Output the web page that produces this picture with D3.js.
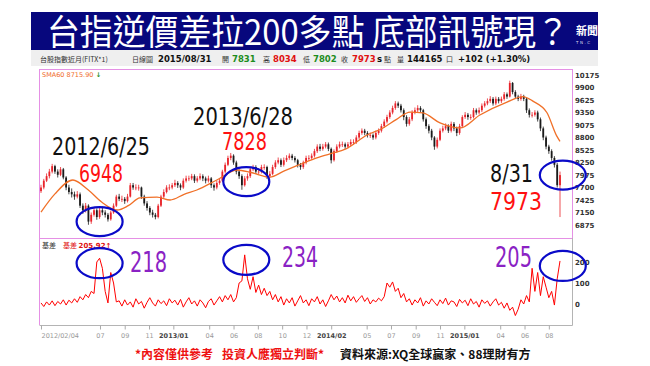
<!DOCTYPE html>
<html>
<head>
<meta charset="utf-8">
<title>台指逆價差</title>
<script src="https://cdn.jsdelivr.net/npm/d3@7"></script>
<style>
    body { margin: 0; background: #fff; }
    svg { display: block; }
    .cjk { font-family: "Noto Sans CJK TC", "Noto Sans CJK SC", sans-serif; }
    .num { font-family: "DejaVu Sans", Verdana, sans-serif; }
    .narrow { font-family: "Liberation Sans Narrow", "DejaVu Sans Condensed", sans-serif; }
</style>
</head>
<body>
<div id="chart-area"></div>
<script>

/*
 *  Data - weekly TAIEX near-month futures
 *  (one value per week, first week ending 2012/02/04)
 */

var startDay = "2012-02-04";
var firstOpen = 7620;

var weekClose = [
    7700,7850,7950,8050, 8170,8050,7980,8100,7920, 7700,7600,7550,7500, 7550,7300,7200,7300,
    6950,7100,7200,7050,7200, 7150,7100,7000,7150, 7300,7500,7450,7450, 7400,7500,7750,7700,7700,
    7700,7500,7350,7250, 7150,7100,7050,7300, 7500,7600,7700,7700,7750,
    7800,7750,7700,7850, 7900,7900,7950,7850, 7900,7950,7900,7850,7900, 7750,7700,7800,7850,
    8050,8200,8350,8400, 8250,8050,7950,7750,7900, 7950,8100,8150,8050, 8050,8150,8150,7950,8000,
    8150,8250,8300,8200, 8300,8350,8400,8350, 8300,8200,8150,8250,8350, 8350,8400,8500,8600,
    8550,8600,8650,8550, 8300,8500,8600,8650, 8650,8600,8650,8700,8700, 8800,8900,8950,8900,
    8850,8850,8800,8900,8950, 9050,9150,9250,9350, 9450,9550,9500,9400, 9250,9100,9200,9350,9400,
    9450,9400,9200,9050, 8950,8800,8600,8750, 8950,9000,9050,8950,9100, 9000,8900,9050,9250,
    9300,9250,9250,9400,9350, 9400,9500,9550,9600, 9650,9550,9650,9600, 9650,9750,9700,10000,
    9800,9700,9650,9700,9650, 9400,9300,9300,9350, 9200,9000,8800,8600, 8500,8350,8200,7750,7973
];

var weekHigh = [
    7760,7890,8010,8110, 8220,8200,8100,8150,8130, 7950,7760,7680,7610, 7620,7590,7350,7360,
    7330,7150,7260,7240,7250, 7280,7200,7140,7190, 7350,7540,7560,7520, 7490,7560,7800,7800,7770,
    7760,7720,7540,7400, 7290,7210,7140,7340, 7540,7660,7750,7770,7800,
    7870,7840,7790,7900, 7960,7960,8000,7990, 7950,8010,7990,7940,7960, 7930,7790,7850,7900,
    8090,8250,8400,8460, 8430,8290,8100,7990,7950, 8010,8150,8200,8190, 8120,8200,8210,8180,8060,
    8200,8300,8360,8340, 8360,8410,8450,8440, 8390,8330,8240,8290,8400, 8410,8450,8550,8650,
    8660,8660,8700,8690, 8580,8540,8650,8710, 8710,8690,8700,8760,8760, 8850,8950,9000,8990,
    8940,8910,8890,8950,9000, 9100,9200,9300,9400, 9500,9600,9590,9540, 9440,9290,9250,9400,9460,
    9510,9490,9430,9240, 9090,8990,8830,8800, 9000,9060,9110,9090,9150, 9140,9040,9100,9290,
    9360,9340,9310,9450,9440, 9460,9550,9600,9660, 9710,9690,9700,9690, 9700,9800,9790,10050,
    10020,9840,9740,9760,9740, 9680,9440,9360,9400, 9390,9240,9040,8840, 8640,8540,8390,8240,8050
];

var weekLow = [
    7580,7660,7820,7900, 8010,8000,7920,7950,7880, 7640,7550,7480,7430, 7460,7250,7120,7150,
    6880,6900,7060,6990,7010, 7090,7040,6950,6970, 7120,7270,7400,7380, 7340,7370,7480,7650,7640,
    7630,7450,7300,7190, 7090,7040,7000,7020, 7270,7460,7570,7640,7660,
    7710,7690,7640,7670, 7810,7840,7860,7800, 7810,7860,7840,7790,7810, 7690,7630,7660,7760,
    7820,8010,8170,8300, 8200,7990,7890,7650,7720, 7850,7910,8060,8000, 7990,8010,8090,7890,7910,
    7970,8110,8210,8150, 8160,8260,8310,8300, 8250,8140,8090,8110,8210, 8290,8310,8360,8460,
    8500,8510,8560,8500, 8230,8270,8460,8560, 8590,8550,8560,8610,8640, 8660,8760,8860,8850,
    8800,8790,8750,8760,8860, 8910,9010,9110,9210, 9310,9410,9450,9350, 9180,9040,9060,9160,9310,
    9360,9350,9150,8990, 8890,8740,8530,8560, 8720,8910,8960,8900,8910, 8940,8830,8860,9010,
    9210,9190,9190,9220,9300, 9310,9360,9460,9510, 9560,9500,9510,9550, 9560,9610,9650,9680,
    9750,9650,9600,9610,9600, 9340,9240,9240,9260, 9150,8940,8740,8540, 8440,8290,8140,7700,7050
];

// basis (futures minus spot), one reading per week
var basisValues = [
    5,-12,10,-5, 15,-8,12,0,20, -5,18,5,25, 8,35,20,45,
    30,60,50,200,218, 170,60,5,150, 100,10,15,-10, 20,-5,10,-15,25,
    0,12,-20,8, 30,5,-10,20, 2,15,-8,25,5,
    18,-5,22,-15, 10,30,0,15, -10,20,5,-18,12, 25,-5,15,35,
    10,40,20,45, 10,30,100,110,234, 120,70,130,55, 90,45,75,40,60,
    20,45,10,35, -5,25,5,30, -10,15,40,5,20, -8,25,10,35,
    0,20,-12,15, 45,20,38,10, 30,5,42,15,35, 8,25,40,12,
    30,0,20,10,28, 15,35,100,80, 105,60,75,30, 50,10,25,-5,20,
    5,30,-10,15, 0,25,8,-8, 20,2,28,-5,15, 10,-12,22,5,
    18,-8,25,0,12, -15,20,3,15, -10,10,25,-5, 8,-20,5,-30,
    -15,-55,-25,20,0, 40,10,170,60, 150,40,130,80, 30,60,-5,120,205
];

// 60-day moving average, read at the bends of the orange line
var smaDates = [
    "2012-02-04","2012-03-10","2012-04-24","2012-06-01","2012-07-05","2012-08-13","2012-09-10",
    "2012-10-09","2012-11-21","2012-12-24","2013-01-28","2013-03-01","2013-04-20","2013-06-10",
    "2013-07-15","2013-08-31","2013-10-05","2013-11-07","2013-12-20","2014-01-29","2014-03-10",
    "2014-05-02","2014-06-11","2014-07-15","2014-08-18","2014-09-19","2014-11-01","2014-12-21",
    "2015-02-09","2015-04-18","2015-05-28","2015-06-22","2015-07-27","2015-08-21","2015-08-29"
];
var smaValues = [
    7160,7560,7865,7650,7380,7205,7300,
    7470,7490,7425,7550,7645,7865,8085,
    8030,7930,8060,8180,8330,8440,8550,
    8855,9010,9200,9360,9340,9120,9010,
    9295,9580,9700,9600,9350,8830,8716
];

var priceTicks = [10175,9900,9625,9350,9075,8800,8525,8250,7975,7700,7425,7150,6875];
var basisTicks = [200,100,0];

var axisDates = ["2012-02-04","2012-07-01","2012-09-01","2012-11-01","2013-01-01","2013-04-01",
    "2013-06-01","2013-08-01","2013-10-01","2013-12-01","2014-02-01","2014-05-01","2014-07-01",
    "2014-09-01","2014-11-01","2015-01-01","2015-04-01","2015-06-01","2015-08-01"];
var axisLabels = ["2012/02/04","07","09","11","2013/01","04","06","08","10","12","2014/02",
    "05","07","09","11","2015/01","04","06","08"];

// circled spots
var markDates = ["2012-06-25","2013-06-28","2015-08-31"];
var markPrices = [6948, 7828, 7973];
var markBasis = [218, 234, 205];


/*
 *  BasisChart - Object constructor function
 *  @param _parentElement   -- HTML element in which to draw the visualization
 */

BasisChart = function(_parentElement) {
    this.parentElement = _parentElement;
    this.initVis();
};


/*
 *  Initialize visualization (static content: banner, frames, axes)
 */

BasisChart.prototype.initVis = function() {
    var vis = this;

    vis.width = 650;
    vis.height = 366;

    vis.svg = d3.select("#" + vis.parentElement).append("svg")
        .attr("width", vis.width)
        .attr("height", vis.height);

    vis.svg.append("rect")
        .attr("width", vis.width).attr("height", vis.height)
        .attr("fill", "#fff");

    // panel boxes
    vis.left = 39;
    vis.right = 572;
    vis.priceTop = 69;
    vis.priceBottom = 238;
    vis.basisBottom = 325;

    var parseDay = d3.timeParse("%Y-%m-%d");
    vis.parseDay = parseDay;
    vis.start = parseDay(startDay);

    vis.x = d3.scaleTime()
        .domain([vis.start, d3.timeDay.offset(vis.start, 7 * (weekClose.length - 1))])
        .range([41, 560]);

    vis.yPrice = d3.scaleLinear().domain([6875, 10175]).range([225, 75]);
    vis.yBasis = d3.scaleLinear().domain([0, 200]).range([304, 262]);

    // title banner
    vis.svg.append("rect")
        .attr("x", 31).attr("y", 12)
        .attr("width", 567).attr("height", 38)
        .attr("fill", "#07077d");

    vis.svg.append("text")
        .attr("class", "cjk")
        .attr("x", 47).attr("y", 45)
        .attr("fill", "#fff")
        .attr("font-size", 35)
        .attr("textLength", 522)
        .attr("lengthAdjust", "spacingAndGlyphs")
        .text("台指逆價差拉200多點 底部訊號現？");

    vis.svg.append("text")
        .attr("class", "cjk")
        .attr("x", 576).attr("y", 35)
        .attr("fill", "#fff")
        .attr("font-size", 11)
        .attr("font-weight", "bold")
        .text("新聞");
    vis.svg.append("text")
        .attr("class", "num")
        .attr("x", 576).attr("y", 44)
        .attr("fill", "#dde")
        .attr("font-size", 4)
        .attr("letter-spacing", 1.5)
        .text("TN.C");

    // quote header row
    vis.svg.append("rect")
        .attr("x", 31).attr("y", 50)
        .attr("width", 567).attr("height", 16)
        .attr("fill", "#efefef");

    var header = [
        ["台股指數近月(FITX*1)", 40, "#333", "normal", "cjk", 7],
        ["日線圖", 132, "#333", "normal", "cjk", 7],
        ["2015/08/31", 158, "#111", "bold", "num", 8.5],
        ["開", 222, "#333", "normal", "cjk", 7],
        ["7831", 232, "#1c8c1c", "bold", "num", 8.5],
        ["高", 263, "#333", "normal", "cjk", 7],
        ["8034", 273, "#e01010", "bold", "num", 8.5],
        ["低", 303, "#333", "normal", "cjk", 7],
        ["7802", 313, "#1c8c1c", "bold", "num", 8.5],
        ["收", 341, "#333", "normal", "cjk", 7],
        ["7973", 352, "#e01010", "bold", "num", 8.5],
        ["s", 377, "#111", "bold", "num", 8.5],
        ["點", 384, "#333", "normal", "cjk", 7],
        ["量", 397, "#333", "normal", "cjk", 7],
        ["144165", 407, "#111", "bold", "num", 8.5],
        ["口", 446, "#333", "normal", "cjk", 7],
        ["+102 (+1.30%)", 458, "#111", "bold", "num", 8.5]
    ];
    vis.svg.selectAll(".header")
        .data(header)
        .enter().append("text")
        .attr("class", function(d) { return "header " + d[4]; })
        .attr("x", function(d) { return d[1]; })
        .attr("y", 62)
        .attr("fill", function(d) { return d[2]; })
        .attr("font-weight", function(d) { return d[3]; })
        .attr("font-size", function(d) { return d[5]; })
        .text(function(d) { return d[0]; });

    // frames
    vis.svg.append("rect")
        .attr("x", vis.left + 0.5).attr("y", vis.priceTop + 0.5)
        .attr("width", vis.right - vis.left).attr("height", vis.priceBottom - vis.priceTop)
        .attr("fill", "none")
        .attr("stroke", "#e590e5");
    vis.svg.append("path")
        .attr("d", "M" + (vis.right + 0.5) + "," + vis.priceBottom + "V" + (vis.basisBottom + 0.5) + "H" + (vis.left + 0.5))
        .attr("fill", "none")
        .attr("stroke", "#b4b4b4");
    vis.svg.append("path")
        .attr("d", "M" + (vis.left + 0.5) + "," + vis.priceBottom + "V" + vis.basisBottom)
        .attr("fill", "none")
        .attr("stroke", "#e590e5");

    vis.svg.append("clipPath").attr("id", "clipBasis")
        .append("rect")
        .attr("x", vis.left + 1).attr("y", vis.priceBottom + 1)
        .attr("width", vis.right - vis.left - 1).attr("height", vis.basisBottom - vis.priceBottom - 1);

    // axes
    vis.priceAxis = d3.axisRight(vis.yPrice).tickValues(priceTicks).tickSize(0).tickPadding(3)
        .tickFormat(d3.format("d"));
    vis.basisAxis = d3.axisRight(vis.yBasis).tickValues(basisTicks).tickSize(0).tickPadding(3)
        .tickFormat(d3.format("d"));

    var tickDates = axisDates.map(parseDay);
    vis.xAxis = d3.axisBottom(vis.x)
        .tickValues(tickDates)
        .tickSize(4)
        .tickFormat(function(d, i) { return axisLabels[i]; });

    vis.svg.append("g").attr("class", "yaxis num").attr("transform", "translate(" + vis.right + ",0)").call(vis.priceAxis);
    vis.svg.append("g").attr("class", "yaxis num").attr("transform", "translate(" + vis.right + ",0)").call(vis.basisAxis);
    vis.svg.selectAll(".yaxis .domain").remove();
    vis.svg.selectAll(".yaxis .tick text")
        .attr("font-size", 7)
        .attr("font-weight", "bold")
        .attr("fill", "#333");

    var xg = vis.svg.append("g")
        .attr("class", "xaxis num")
        .attr("transform", "translate(0," + (vis.basisBottom + 0.5) + ")")
        .call(vis.xAxis);
    xg.select(".domain").remove();
    xg.selectAll(".tick line").attr("stroke", "#aaa");
    xg.selectAll(".tick text")
        .attr("y", 8)
        .attr("font-size", 6.5)
        .attr("fill", function(d, i) { return axisLabels[i].length == 7 ? "#444" : "#999"; })
        .attr("font-weight", function(d, i) { return axisLabels[i].length == 7 ? "bold" : "normal"; })
        .attr("text-anchor", function(d, i) { return i == 0 ? "start" : "middle"; });

    // legends inside the panels
    var sma = vis.svg.append("text").attr("class", "num")
        .attr("x", 42).attr("y", 77).attr("font-size", 6.5);
    sma.append("tspan").attr("fill", "#f06a2a").text("SMA60 8715.90");
    sma.append("tspan").attr("fill", "#1c8c1c").attr("font-weight", "bold").text(" ↓");

    vis.svg.append("text").attr("class", "cjk")
        .attr("x", 42).attr("y", 248).attr("font-size", 7).attr("fill", "#333")
        .text("基差");
    var bs = vis.svg.append("text").attr("class", "cjk")
        .attr("x", 63).attr("y", 248).attr("font-size", 7).attr("fill", "#e01010");
    bs.append("tspan").text("基差 ");
    bs.append("tspan").attr("class", "num").attr("font-weight", "bold").text("205.92↑");

    // footer
    var foot = vis.svg.append("text").attr("class", "cjk")
        .attr("y", 359).attr("font-size", 12).attr("font-weight", "bold");
    foot.append("tspan").attr("x", 135).attr("fill", "#ee1111").text("*內容僅供參考");
    foot.append("tspan").attr("x", 222).attr("fill", "#ee1111").text("投資人應獨立判斷*");
    foot.append("tspan").attr("x", 340).attr("fill", "#111").text("資料來源:XQ全球贏家、88理財有方");

    vis.wrangleData();
};


/*
 *  Data wrangling
 */

BasisChart.prototype.wrangleData = function() {
    var vis = this;

    vis.weeks = weekClose.map(function(c, i) {
        return {
            date: d3.timeDay.offset(vis.start, 7 * i),
            open: i == 0 ? firstOpen : weekClose[i - 1],
            close: c,
            high: weekHigh[i],
            low: weekLow[i],
            basis: basisValues[i]
        };
    });

    vis.sma = smaDates.map(function(d, i) {
        return { date: vis.parseDay(d), value: smaValues[i] };
    });

    vis.marks = markDates.map(function(d, i) {
        return { date: vis.parseDay(d), price: markPrices[i], basis: markBasis[i] };
    });

    vis.updateVis();
};


/*
 *  The drawing function
 */

BasisChart.prototype.updateVis = function() {
    var vis = this;

    var up = "#e8232a", down = "#1a1a1a";

    // candles: wick then body
    vis.svg.selectAll(".wick")
        .data(vis.weeks)
        .enter().append("line")
        .attr("class", "wick")
        .attr("x1", function(d) { return vis.x(d.date); })
        .attr("x2", function(d) { return vis.x(d.date); })
        .attr("y1", function(d) { return vis.yPrice(d.high); })
        .attr("y2", function(d) { return vis.yPrice(d.low); })
        .attr("stroke", function(d) { return d.close >= d.open ? up : down; })
        .attr("stroke-width", 0.8);

    vis.svg.selectAll(".body")
        .data(vis.weeks)
        .enter().append("rect")
        .attr("class", "body")
        .attr("x", function(d) { return vis.x(d.date) - 0.9; })
        .attr("width", 1.8)
        .attr("y", function(d) { return vis.yPrice(Math.max(d.open, d.close)); })
        .attr("height", function(d) { return Math.max(0.8, Math.abs(vis.yPrice(d.open) - vis.yPrice(d.close))); })
        .attr("fill", function(d) { return d.close >= d.open ? up : down; });

    // SMA60
    var smaLine = d3.line()
        .x(function(d) { return vis.x(d.date); })
        .y(function(d) { return vis.yPrice(d.value); })
        .curve(d3.curveMonotoneX);

    vis.svg.append("path")
        .datum(vis.sma)
        .attr("d", smaLine)
        .attr("fill", "none")
        .attr("stroke", "#f07028")
        .attr("stroke-width", 1.3);

    // basis line
    var basisLine = d3.line()
        .x(function(d) { return vis.x(d.date); })
        .y(function(d) { return vis.yBasis(d.basis); });

    vis.svg.append("path")
        .datum(vis.weeks)
        .attr("clip-path", "url(#clipBasis)")
        .attr("d", basisLine)
        .attr("fill", "none")
        .attr("stroke", "#ff0000")
        .attr("stroke-width", 1);

    // blue circles on both panels
    vis.svg.selectAll(".ringPrice")
        .data(vis.marks)
        .enter().append("ellipse")
        .attr("class", "ringPrice")
        .attr("cx", function(d) { return vis.x(d.date) + 2; })
        .attr("cy", function(d) { return vis.yPrice(d.price); })
        .attr("rx", 23).attr("ry", 14.5)
        .attr("fill", "none")
        .attr("stroke", "#0a0ac8")
        .attr("stroke-width", 2.2);

    vis.svg.selectAll(".ringBasis")
        .data(vis.marks)
        .enter().append("ellipse")
        .attr("class", "ringBasis")
        .attr("cx", function(d) { return vis.x(d.date) + 2; })
        .attr("cy", function(d) { return vis.yBasis(d.basis) + 5; })
        .attr("rx", 23).attr("ry", 15)
        .attr("fill", "none")
        .attr("stroke", "#0a0ac8")
        .attr("stroke-width", 2.2);

    // call-out texts (positions and widths as in the picture)
    var dateText = ["2012/6/25", "2013/6/28", "8/31"];
    var dateXY = [[52, 155, 98], [193, 125, 100], [490, 182, 43]];
    var priceXY = [[79, 182, 44], [222, 150, 45], [490, 210, 52]];

    vis.svg.selectAll(".dateNote")
        .data(vis.marks)
        .enter().append("text")
        .attr("class", "dateNote narrow")
        .attr("x", function(d, i) { return dateXY[i][0]; })
        .attr("y", function(d, i) { return dateXY[i][1]; })
        .attr("textLength", function(d, i) { return dateXY[i][2]; })
        .attr("lengthAdjust", "spacingAndGlyphs")
        .attr("font-size", 24)
        .attr("fill", "#111")
        .text(function(d, i) { return dateText[i]; });

    vis.svg.selectAll(".priceNote")
        .data(vis.marks)
        .enter().append("text")
        .attr("class", "priceNote narrow")
        .attr("x", function(d, i) { return priceXY[i][0]; })
        .attr("y", function(d, i) { return priceXY[i][1]; })
        .attr("textLength", function(d, i) { return priceXY[i][2]; })
        .attr("lengthAdjust", "spacingAndGlyphs")
        .attr("font-size", 24)
        .attr("fill", "#ff1010")
        .text(function(d) { return d.price; });

    var basisXY = [[130, 272, 37], [282, 267, 36], [495, 267, 37]];
    vis.svg.selectAll(".basisNote")
        .data(vis.marks)
        .enter().append("text")
        .attr("class", "basisNote narrow")
        .attr("x", function(d, i) { return basisXY[i][0]; })
        .attr("y", function(d, i) { return basisXY[i][1]; })
        .attr("textLength", function(d, i) { return basisXY[i][2]; })
        .attr("lengthAdjust", "spacingAndGlyphs")
        .attr("font-size", 28)
        .attr("fill", "#8a22c4")
        .text(function(d) { return d.basis; });
};


var chart = new BasisChart("chart-area");

</script>
</body>
</html>
